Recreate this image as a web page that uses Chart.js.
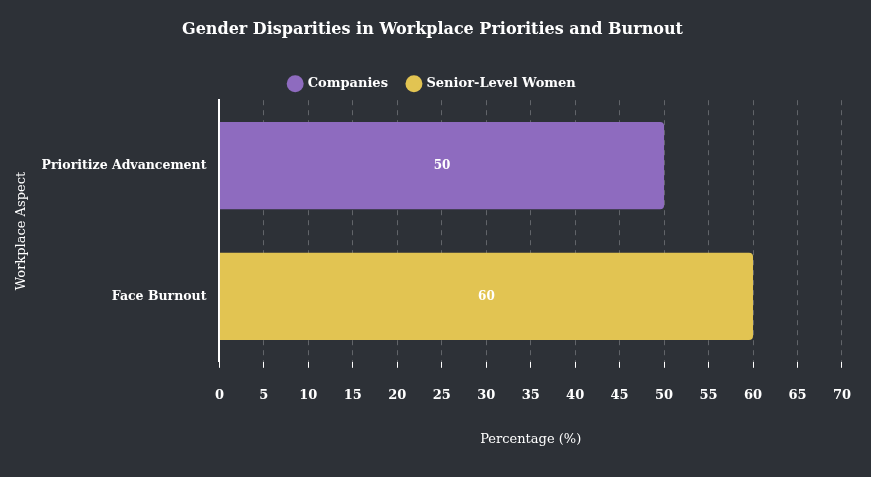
<!DOCTYPE html>
<html><head><meta charset="utf-8">
<script src="https://cdn.jsdelivr.net/npm/chart.js@4"></script>
<style>html,body{margin:0;background:#2d3137;}#w{width:871px;height:477px;}</style>
</head><body><div id="w"><canvas id="c"></canvas></div>
<script>
const categories = ["Prioritize Advancement", "Face Burnout"];
const companiesValues = [50, null];
const womenValues = [null, 60];
const xTicks = [0,5,10,15,20,25,30,35,40,45,50,55,60,65,70];
const F = "'DejaVu Serif', 'Liberation Serif', serif";
const labelPlugin = {
  id: 'lbl',
  afterDatasetsDraw(chart) {
    const ctx = chart.ctx;
    ctx.save();
    ctx.fillStyle = '#fff';
    ctx.font = 'bold 12px ' + F;
    ctx.textAlign = 'center'; ctx.textBaseline = 'middle';
    chart.data.datasets.forEach((ds, i) => {
      chart.getDatasetMeta(i).data.forEach((el, j) => {
        if (ds.data[j] == null) return;
        ctx.fillText(ds.data[j], (el.x + el.base) / 2, el.y);
      });
    });
    ctx.restore();
  }
};
new Chart(document.getElementById('c'), {
  type: 'bar',
  data: { labels: categories, datasets: [
    { label: 'Companies', data: companiesValues, backgroundColor: '#8e6bbf', borderRadius: 4, borderSkipped: 'start' },
    { label: 'Senior-Level Women', data: womenValues, backgroundColor: '#e2c452', borderRadius: 4, borderSkipped: 'start' }
  ]},
  options: {
    indexAxis: 'y', responsive: true, maintainAspectRatio: false, animation: false,
    layout: { padding: { left: 10, right: 16, top: 12, bottom: 26 } },
    datasets: { bar: { grouped: false, barPercentage: 0.74, categoryPercentage: 0.9 } },
    plugins: {
      title: { display: true, text: 'Gender Disparities in Workplace Priorities and Burnout', color: '#fff', font: { family: F, size: 16, weight: 'bold' }, padding: { top: 8, bottom: 18 } },
      legend: { labels: { color: '#fff', usePointStyle: true, pointStyle: 'circle', boxWidth: 12, boxHeight: 12, padding: 20, font: { family: F, size: 13, weight: 'bold' } } },
      tooltip: { enabled: false }
    },
    scales: {
      x: { min: 0, max: 70, afterBuildTicks: a => { a.ticks = xTicks.map(v => ({ value: v })); },
        grid: { color: 'rgba(255,255,255,0.25)', tickLength: 6, tickColor: '#fff' },
        border: { display: false, dash: [5, 5] },
        ticks: { color: '#fff', padding: 20, font: { family: F, size: 13, weight: 'bold' } },
        title: { display: true, text: 'Percentage (%)', color: '#fff', padding: { top: 8 }, font: { family: F, size: 13 } } },
      y: { grid: { display: false, tickLength: 5, drawOnChartArea: false, tickColor: '#fff' },
        border: { display: true, color: '#fff', width: 2 },
        ticks: { color: '#fff', padding: 8, font: { family: F, size: 12.5, weight: 'bold' } },
        title: { display: true, text: 'Workplace Aspect', color: '#fff', font: { family: F, size: 13 } } }
    }
  },
  plugins: [labelPlugin]
});
</script></body></html>
